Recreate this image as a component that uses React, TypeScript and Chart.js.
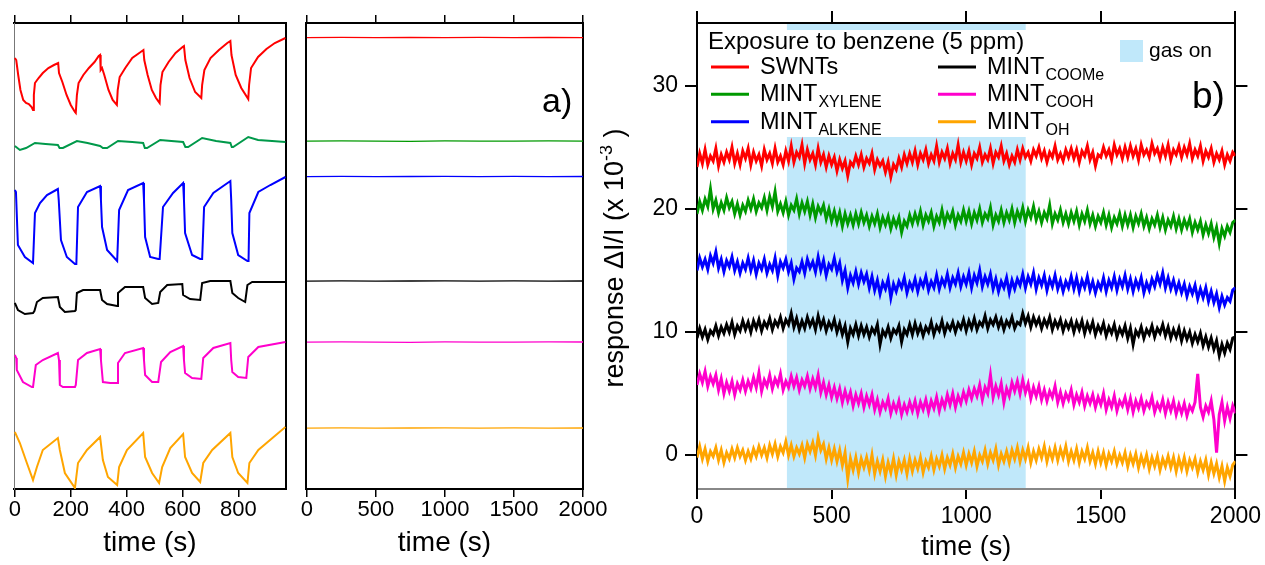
import React, { useEffect, useRef } from 'react';
import { Chart, registerables } from 'chart.js';
Chart.register(...registerables);

const FONT = '"Liberation Sans", Arial, Helvetica, sans-serif';

// ---------- Panel a (left): repeated exposures, [time s, offset signal (arb., plotted downward)] ----------
const A_SWNT: [number, number][] = [[0,58],[5,60],[12,75],[20,90],[30,100],[40,103],[50,104],[60,107],[65,110],[68,95],[72,83],[85,78],[100,73],[120,68],[140,65],[155,63],[158,73],[170,82],[185,95],[200,105],[215,112],[218,113],[222,95],[228,83],[245,75],[265,68],[285,62],[300,56],[305,55],[307,70],[312,68],[320,75],[335,90],[350,100],[365,105],[368,90],[375,77],[395,68],[420,58],[445,53],[460,50],[463,60],[475,75],[490,90],[505,98],[518,103],[521,85],[528,72],[550,62],[575,53],[600,47],[605,46],[610,60],[625,78],[645,92],[667,98],[670,85],[678,70],[700,58],[730,50],[760,43],[771,41],[775,55],[790,75],[810,88],[835,99],[838,85],[845,68],[870,57],[900,49],[930,43],[968,38]];
const A_XYLENE: [number, number][] = [[0,146],[18,150],[40,148],[72,143],[110,144],[154,145],[160,148],[172,148],[222,141],[260,143],[305,146],[315,148],[330,148],[369,141],[420,142],[459,143],[465,148],[473,148],[520,140],[560,141],[602,142],[610,147],[620,147],[670,138],[720,141],[771,143],[776,147],[781,147],[835,137],[870,140],[920,141],[968,142]];
const A_ALKENE: [number, number][] = [[0,190],[4,192],[11,245],[36,257],[65,263],[68,263],[72,213],[90,203],[115,195],[154,189],[157,200],[165,240],[186,257],[215,264],[220,264],[226,207],[258,192],[305,186],[308,200],[312,227],[330,250],[366,261],[369,261],[373,210],[405,190],[459,183],[462,200],[466,237],[484,257],[513,259],[518,259],[530,207],[566,193],[602,183],[605,200],[609,233],[634,255],[663,259],[670,259],[677,207],[710,193],[771,181],[774,200],[778,233],[799,255],[832,261],[836,261],[839,213],[871,192],[914,185],[968,177]];
const A_COOME: [number, number][] = [[0,303],[11,310],[36,314],[65,313],[70,311],[79,302],[100,298],[154,297],[161,307],[179,312],[215,311],[218,310],[222,293],[244,290],[305,290],[312,300],[330,304],[366,306],[369,293],[394,287],[459,287],[466,298],[491,304],[513,303],[520,292],[545,285],[599,284],[602,295],[627,299],[663,300],[670,283],[699,281],[771,281],[778,293],[799,298],[824,302],[832,285],[849,282],[968,282]];
const A_COOH: [number, number][] = [[0,355],[5,358],[7,370],[29,382],[61,387],[65,387],[75,365],[100,360],[154,353],[158,360],[161,385],[172,387],[215,387],[218,385],[226,360],[258,353],[305,349],[308,360],[315,382],[341,383],[366,383],[369,363],[394,353],[459,348],[462,360],[466,375],[491,382],[513,382],[523,362],[556,352],[602,346],[605,360],[609,373],[634,378],[667,379],[674,358],[710,348],[771,343],[774,360],[778,372],[799,377],[828,378],[835,357],[871,347],[968,342]];
const A_OH: [number, number][] = [[0,432],[18,443],[43,463],[65,480],[79,467],[100,450],[154,438],[161,450],[179,473],[215,488],[226,463],[258,450],[305,437],[315,460],[333,477],[366,485],[373,467],[401,450],[459,433],[466,457],[491,473],[516,483],[527,467],[556,448],[602,434],[609,457],[634,473],[663,482],[674,463],[706,450],[771,433],[778,457],[799,473],[832,483],[839,463],[871,450],[968,427]];
const A1_TICKS = [0, 200, 400, 600, 800];

// ---------- Panel a (right): benzene, flat traces ----------
const A2_SWNT: [number, number][] = [[0,37.6],[250,37.4],[500,37.7],[750,37.5],[1000,37.6],[1250,37.4],[1500,37.7],[1750,37.5],[2000,37.6]];
const A2_XYLENE: [number, number][] = [[0,141.2],[250,140.9],[500,141.1],[750,141.3],[1000,140.9],[1250,141.1],[1500,141.2],[1750,140.9],[2000,141.1]];
const A2_ALKENE: [number, number][] = [[0,176.6],[250,176.4],[500,176.7],[750,176.5],[1000,176.3],[1250,176.6],[1500,176.4],[1750,176.7],[2000,176.5]];
const A2_COOME: [number, number][] = [[0,281.1],[250,280.9],[500,281.2],[750,281.0],[1000,280.8],[1250,281.1],[1500,280.9],[1750,281.2],[2000,281.0]];
const A2_COOH: [number, number][] = [[0,342.2],[250,341.9],[500,342.1],[750,342.3],[1000,341.9],[1250,342.1],[1500,342.2],[1750,341.9],[2000,342.0]];
const A2_OH: [number, number][] = [[0,428.1],[250,427.9],[500,428.2],[750,428.0],[1000,427.8],[1250,428.1],[1500,427.9],[1750,428.2],[2000,428.0]];
const A2_TICKS = [0, 500, 1000, 1500, 2000];

// ---------- Panel b: exposure to benzene (5 ppm), response ΔI/I (x 10^-3), sampled every 10 s ----------
const B_TIMES: number[] = Array.from({ length: 201 }, (_, i) => i * 10);
const B_SWNT = [
  23.4,24.5,23.7,24.8,23.6,24.3,23.9,24.9,23.5,24.4,23.8,24.6,24.0,25.0,23.7,24.5,23.6,24.7,24.1,24.9,
  23.6,24.6,23.9,24.4,23.5,24.8,24.0,24.5,23.7,24.9,23.8,24.3,23.6,24.7,23.9,25.1,23.8,24.6,24.2,25.2,
  23.7,24.8,24.0,24.5,23.6,24.9,23.8,24.4,23.4,24.3,23.6,24.2,23.1,24.0,23.3,23.9,22.7,23.8,23.5,24.3,
  23.6,24.4,23.4,24.1,23.7,24.5,23.2,24.0,23.5,23.9,23.0,23.8,22.6,23.6,23.2,24.1,23.4,24.4,23.7,24.5,
  23.8,24.7,23.6,24.5,24.0,24.8,23.7,24.4,23.9,25.1,23.8,24.6,24.1,24.9,23.7,24.5,24.0,25.2,23.8,24.6,
  23.9,24.7,23.6,24.5,24.1,25.0,23.8,24.4,24.0,24.9,23.7,24.6,24.2,25.1,23.9,24.5,23.6,24.3,23.8,24.8,
  24.0,24.9,24.2,24.6,23.9,24.8,24.3,25.0,24.1,24.7,23.8,24.6,24.2,25.1,24.0,24.5,23.9,24.8,24.2,24.9,
  24.1,24.8,23.8,24.7,24.3,25.1,24.0,24.6,23.5,24.4,24.2,25.0,24.3,24.8,24.0,25.2,24.4,24.9,24.1,25.0,
  24.2,25.1,24.3,24.9,24.0,25.2,24.4,24.8,24.2,25.3,24.5,24.9,24.1,25.0,24.3,25.2,24.0,24.8,24.4,25.1,
  24.2,25.0,24.4,25.3,24.1,24.8,24.3,25.1,23.9,24.7,24.2,24.9,23.8,24.5,24.0,24.7,23.6,24.4,23.9,24.6,
  24.3];
const B_XYLENE = [
  19.6,20.6,19.9,20.8,20.2,21.6,20.0,20.7,19.7,20.5,19.9,20.9,20.1,20.6,19.6,20.4,19.5,20.3,19.8,20.7,
  20.0,20.8,19.8,20.5,20.1,20.9,19.9,21.0,20.2,21.4,19.8,20.4,19.7,20.6,19.5,20.3,19.9,20.8,19.6,20.5,
  19.8,20.6,19.5,20.4,19.3,20.2,19.7,20.3,19.2,20.0,19.0,19.8,18.9,19.7,18.6,19.6,18.8,19.5,18.7,19.6,
  18.8,19.7,18.9,19.5,18.6,19.4,18.8,19.6,18.5,19.3,18.7,19.4,18.4,19.2,18.6,19.3,18.1,19.0,18.6,19.5,
  18.8,19.6,18.9,19.8,18.7,19.5,19.0,19.7,18.6,19.4,18.9,19.9,18.8,19.6,19.1,19.8,18.7,19.5,19.0,19.9,
  19.0,19.8,18.8,19.7,19.1,20.0,18.9,19.6,19.2,20.1,18.7,19.5,19.0,19.9,18.9,19.7,19.1,20.0,18.9,19.8,
  19.2,20.1,19.0,19.9,19.3,20.2,19.1,19.8,18.9,19.7,19.2,20.3,18.8,19.6,19.1,19.9,18.9,19.6,18.8,19.7,
  19.0,19.8,18.7,19.6,19.0,19.9,18.8,19.5,18.6,19.4,18.9,19.7,18.7,19.5,18.5,19.3,18.8,19.6,18.6,19.5,
  18.7,19.5,18.5,19.4,18.8,19.6,18.6,19.3,18.4,19.2,18.7,19.5,18.5,19.3,18.3,19.1,18.6,19.4,18.4,19.2,
  18.3,19.1,18.5,19.2,18.1,18.9,18.3,19.0,17.9,18.7,18.0,18.8,17.7,18.5,17.2,18.4,17.8,18.6,18.1,18.9,
  19.1];
const B_ALKENE = [
  15.0,16.0,15.3,15.9,15.1,16.2,15.6,16.5,15.2,15.9,14.9,15.8,15.3,16.1,15.0,15.7,14.8,15.6,15.1,16.0,
  15.0,15.8,14.7,15.6,15.1,15.9,14.8,15.5,15.0,16.0,14.6,15.7,15.2,15.9,14.9,15.6,14.3,15.2,14.9,15.7,
  14.8,15.9,15.2,15.7,14.9,16.1,15.0,15.8,14.6,15.5,15.1,16.0,14.9,15.6,14.2,15.0,13.6,14.6,14.0,14.9,
  13.9,14.8,14.1,14.7,13.6,14.5,13.4,14.2,13.1,14.0,13.5,14.3,12.8,13.9,13.3,14.1,13.6,14.4,13.2,14.0,
  13.5,14.3,13.3,14.2,13.7,14.5,13.4,14.1,13.6,14.6,13.5,14.3,13.8,14.7,13.6,14.4,13.9,14.8,13.7,14.5,
  13.9,14.8,13.6,14.6,14.0,15.0,13.7,14.5,13.9,14.7,13.5,14.3,13.3,14.1,13.6,14.4,13.2,14.2,13.5,14.3,
  13.8,14.7,13.6,14.5,13.9,14.8,13.5,14.4,13.8,14.6,13.4,14.3,13.7,14.6,13.5,14.2,13.3,14.1,13.6,14.5,
  13.5,14.4,13.3,14.2,13.6,14.5,13.4,14.1,13.2,14.0,13.5,14.4,13.3,14.2,13.6,14.5,13.4,14.3,13.7,14.6,
  13.5,14.3,13.3,14.2,13.6,14.4,13.2,14.0,13.4,14.3,13.7,14.6,13.9,14.8,13.6,14.4,13.5,14.2,13.3,14.0,
  13.2,13.9,12.9,13.7,13.1,13.8,12.7,13.5,12.8,13.6,12.5,13.3,12.4,13.1,12.0,12.9,12.2,12.8,12.5,13.4,
  13.6];
const B_COOME = [
  9.5,10.3,9.6,10.2,9.4,10.1,9.8,10.5,9.7,10.4,9.9,10.6,10.0,10.8,9.8,10.5,10.1,10.9,10.2,10.8,
  10.0,10.9,10.3,11.0,10.1,10.8,10.4,11.1,10.2,10.9,10.5,11.2,10.3,11.0,10.6,11.5,10.4,11.1,10.2,10.9,
  10.3,11.2,10.5,11.0,10.2,11.3,10.4,11.0,10.1,10.8,10.3,11.0,10.0,10.7,9.8,10.5,9.2,10.3,9.8,10.6,
  9.7,10.5,9.8,10.4,9.6,10.3,9.9,10.6,9.0,10.1,9.7,10.4,9.5,10.2,9.9,10.5,9.2,10.2,9.8,10.6,
  9.8,10.7,9.9,10.5,9.7,10.4,10.0,10.8,9.8,10.5,10.1,10.9,9.9,10.6,10.2,10.8,10.0,10.7,10.3,11.0,
  10.1,10.9,10.3,11.1,10.2,10.8,10.5,11.3,10.3,11.0,10.6,11.2,10.4,11.0,10.2,10.9,10.5,11.2,10.3,10.8,
  10.6,11.5,10.7,11.3,10.4,11.2,10.6,11.1,10.3,11.0,10.5,11.2,10.2,10.9,10.4,11.0,10.1,10.8,10.3,10.9,
  10.0,10.8,10.2,10.9,9.9,10.7,10.1,10.8,9.8,10.5,10.0,10.7,9.7,10.4,9.9,10.6,9.6,10.3,9.8,10.5,
  9.5,10.3,9.0,10.1,9.7,10.4,9.5,10.2,9.8,10.5,9.6,10.3,9.9,10.6,9.7,10.4,9.5,10.2,9.6,10.3,
  9.3,10.1,9.4,10.0,9.1,9.8,9.2,9.9,8.9,9.6,8.8,9.5,8.6,9.3,8.1,9.0,8.3,9.1,8.6,9.5,
  9.6];
const B_COOH = [
  5.7,6.6,5.9,6.8,5.6,6.4,5.8,6.5,5.3,6.2,5.0,5.9,5.2,6.0,4.9,5.8,5.3,6.1,5.2,6.0,
  5.4,6.3,5.5,6.7,5.2,6.1,5.6,6.5,5.4,6.2,5.7,6.6,5.3,6.0,5.5,6.4,5.6,6.3,5.3,6.1,
  5.6,6.4,5.4,6.2,5.5,6.5,5.1,5.9,4.9,5.7,4.7,5.5,4.6,5.4,4.3,5.2,4.4,5.1,4.0,4.9,
  4.2,5.0,3.9,4.8,4.1,4.9,3.7,4.5,3.5,4.3,3.8,4.6,3.4,4.2,3.6,4.4,3.3,4.1,3.5,4.3,
  3.6,4.4,3.4,4.3,3.7,4.5,3.5,4.4,3.8,4.7,3.6,4.5,3.9,4.9,4.1,5.0,3.9,4.8,4.2,5.1,
  4.4,5.3,4.6,5.4,4.8,5.7,4.5,5.5,5.0,6.5,4.7,5.6,4.9,5.8,4.3,5.4,4.8,5.9,5.2,6.0,
  5.0,6.1,5.1,5.8,4.6,5.5,4.8,5.6,4.5,5.3,4.4,5.2,4.7,5.6,4.3,5.1,4.2,5.0,4.5,5.3,
  4.1,4.9,4.3,5.1,4.0,4.8,4.2,4.9,3.9,4.7,4.1,5.0,3.7,4.5,3.9,4.8,3.6,4.4,4.0,4.7,
  3.7,4.6,3.5,4.4,3.8,4.6,3.6,4.3,3.9,4.7,3.5,4.2,3.7,4.5,3.4,4.3,3.6,4.4,3.3,4.1,
  3.4,4.2,3.2,4.0,3.6,4.3,6.6,3.9,3.1,4.0,3.5,4.4,2.9,0.2,3.3,4.3,2.8,3.9,3.0,4.0,
  3.4];
const B_OH = [
  -0.2,0.7,-0.3,0.5,-0.5,0.3,-0.1,0.6,-0.4,0.4,-0.6,0.2,-0.3,0.5,-0.2,0.6,-0.1,0.4,-0.4,0.3,
  -0.3,0.5,-0.1,0.7,0.0,0.6,-0.2,0.8,0.1,0.9,-0.1,0.7,0.2,1.1,0.0,0.8,-0.1,0.6,0.1,0.8,
  -0.2,0.9,0.3,1.0,0.0,1.4,0.4,0.9,-0.3,0.6,-0.4,0.5,-0.5,0.4,-0.8,0.2,-1.9,-0.3,-1.2,-0.2,
  -1.4,-0.3,-1.0,-0.2,-1.2,0.0,-1.5,-0.5,-1.3,-0.4,-1.7,-0.6,-1.4,-0.3,-1.6,-0.5,-1.2,-0.4,-1.5,-0.3,
  -1.3,-0.4,-1.1,-0.2,-1.4,-0.5,-1.0,-0.1,-1.2,-0.3,-0.9,0.0,-1.1,-0.2,-0.8,0.1,-1.0,-0.1,-0.7,0.2,
  -0.8,0.1,-0.6,0.3,-0.9,0.0,-0.5,0.4,-0.7,0.2,-0.4,0.5,-0.8,0.1,-0.5,0.3,-0.6,0.4,-0.3,0.6,
  -0.5,0.4,-0.3,0.6,-0.6,0.3,-0.4,0.5,-0.2,0.7,-0.5,0.4,-0.3,0.6,-0.4,0.5,-0.2,0.7,-0.5,0.3,
  -0.4,0.5,-0.6,0.3,-0.3,0.6,-0.5,0.2,-0.7,0.3,-0.6,0.2,-0.8,0.1,-0.5,0.3,-0.7,0.0,-0.6,0.2,
  -0.9,0.0,-0.7,0.1,-1.0,-0.1,-0.8,0.0,-1.1,-0.2,-0.9,-0.1,-1.2,-0.3,-0.9,-0.1,-1.0,-0.2,-1.3,-0.3,
  -1.1,-0.2,-1.3,-0.4,-1.0,-0.3,-1.4,-0.5,-1.2,-0.4,-1.6,-0.6,-1.5,-0.7,-1.8,-0.9,-2.1,-1.0,-1.7,-0.8,
  -0.5];
const GAS_ON: [number, number] = [334, 1221];
const B_XTICKS = [0, 500, 1000, 1500, 2000];
const B_YTICKS = [0, 10, 20, 30];

const C_RED = '#ff0000';
const C_GREEN = '#009900';
const C_GREEN_A = '#00994a';
const C_BLUE = '#0000ff';
const C_BLACK = '#000000';
const C_MAGENTA = '#ff00cc';
const C_ORANGE = '#ffa500';

const LEGEND_ITEMS = [
  { main: 'SWNTs', sub: '', color: C_RED, col: 0, row: 0 },
  { main: 'MINT', sub: 'XYLENE', color: C_GREEN, col: 0, row: 1 },
  { main: 'MINT', sub: 'ALKENE', color: C_BLUE, col: 0, row: 2 },
  { main: 'MINT', sub: 'COOMe', color: C_BLACK, col: 1, row: 0 },
  { main: 'MINT', sub: 'COOH', color: C_MAGENTA, col: 1, row: 1 },
  { main: 'MINT', sub: 'OH', color: C_ORANGE, col: 1, row: 2 },
];

function line(data: any[], color: string, width: number) {
  return { data, borderColor: color, backgroundColor: color, borderWidth: width, pointRadius: 0, tension: 0, fill: false };
}

function fixW(w: number) { return (s: any) => { s.width = w; }; }
function fixH(h: number) { return (s: any) => { s.height = h; }; }
function setTicks(vals: number[]) { return (s: any) => { s.ticks = vals.map((v) => ({ value: v })); }; }
const plain = (v: any) => String(v);

function panelAScales(xmin: number, xmax: number, ticks: number[], leftW: number, rightW: number, leftColor: string, leftWidth: number) {
  const tickGrid = { display: true, drawOnChartArea: false, drawTicks: true, tickLength: 8, color: '#000', lineWidth: 1.5 };
  return {
    x: {
      type: 'linear', position: 'bottom', min: xmin, max: xmax,
      afterBuildTicks: setTicks(ticks),
      ticks: { autoSkip: false, maxRotation: 0, color: '#000', font: { size: 22, family: FONT }, padding: 0, callback: plain },
      grid: tickGrid,
      border: { display: true, color: '#000', width: 2 },
      title: { display: true, text: 'time (s)', color: '#000', font: { size: 28, family: FONT }, padding: { top: 0, bottom: 5 } },
      afterFit: fixH(76),
    },
    xTop: {
      type: 'linear', position: 'top', min: xmin, max: xmax,
      afterBuildTicks: setTicks(ticks),
      ticks: { display: false, autoSkip: false },
      grid: tickGrid,
      border: { display: true, color: '#000', width: 2 },
      afterFit: fixH(23),
    },
    y: {
      type: 'linear', position: 'left', reverse: true, min: 23, max: 489,
      ticks: { display: false }, grid: { display: false },
      border: { display: true, color: leftColor, width: leftWidth },
      afterFit: fixW(leftW),
    },
    yRight: {
      type: 'linear', position: 'right', reverse: true, min: 23, max: 489,
      ticks: { display: false }, grid: { display: false },
      border: { display: true, color: '#000', width: 2 },
      afterFit: fixW(rightW),
    },
  };
}

const baseOptions = {
  animation: false, responsive: false, devicePixelRatio: 1, events: [],
  layout: { padding: 0 },
  plugins: { legend: { display: false }, tooltip: { enabled: false }, title: { display: false } },
};

const labelAPlugin = {
  id: 'labelA',
  afterDraw(chart: any) {
    const ctx = chart.ctx;
    ctx.save();
    ctx.fillStyle = '#000';
    ctx.font = `34px ${FONT}`;
    ctx.textAlign = 'left';
    ctx.textBaseline = 'alphabetic';
    ctx.fillText('a)', 250, 112);
    ctx.restore();
  },
};

const panelBPlugin = {
  id: 'panelB',
  beforeDraw(chart: any) {
    const ctx = chart.ctx;
    const { chartArea } = chart;
    const xs = chart.scales.x;
    const x0 = xs.getPixelForValue(GAS_ON[0]);
    const x1 = xs.getPixelForValue(GAS_ON[1]);
    ctx.save();
    ctx.fillStyle = 'rgb(192,232,250)';
    ctx.fillRect(x0, chartArea.top, x1 - x0, chartArea.bottom - chartArea.top);
    ctx.fillStyle = '#ffffff';
    ctx.fillRect(chartArea.left + 2, 30, chartArea.right - chartArea.left - 4, 107);
    ctx.restore();
  },
  afterDraw(chart: any) {
    const ctx = chart.ctx;
    ctx.save();
    ctx.fillStyle = '#000';
    ctx.textAlign = 'left';
    ctx.textBaseline = 'alphabetic';
    ctx.font = `24px ${FONT}`;
    ctx.fillText('Exposure to benzene (5 ppm)', 108, 49);
    const rowsY = [67, 94.3, 121.7];
    const colLine = [111, 338];
    const colText = [160, 387];
    for (const it of LEGEND_ITEMS) {
      const ly = rowsY[it.row];
      ctx.strokeStyle = it.color;
      ctx.lineWidth = 3;
      ctx.beginPath();
      ctx.moveTo(colLine[it.col], ly);
      ctx.lineTo(colLine[it.col] + 38, ly);
      ctx.stroke();
      ctx.fillStyle = '#000';
      ctx.font = `23.5px ${FONT}`;
      const tx = colText[it.col];
      ctx.fillText(it.main, tx, ly + 7);
      if (it.sub) {
        const w = ctx.measureText(it.main).width;
        ctx.font = `16px ${FONT}`;
        ctx.fillText(it.sub, tx + w + 1, ly + 13);
      }
    }
    ctx.fillStyle = 'rgb(192,232,250)';
    ctx.fillRect(520, 40, 23, 22);
    ctx.fillStyle = '#000';
    ctx.font = `21px ${FONT}`;
    ctx.fillText('gas on', 549, 57);
    ctx.font = `37px ${FONT}`;
    ctx.fillText('b)', 592, 108);
    const mainFont = `27px ${FONT}`;
    const supFont = `18px ${FONT}`;
    const p1 = 'response ΔI/I (x 10';
    const p2 = '-3';
    const p3 = ' )';
    ctx.font = mainFont;
    const w1 = ctx.measureText(p1).width;
    const w3 = ctx.measureText(p3).width;
    ctx.font = supFont;
    const w2 = ctx.measureText(p2).width;
    const total = w1 + w2 + w3;
    ctx.translate(23, 258);
    ctx.rotate(-Math.PI / 2);
    let x = -total / 2;
    ctx.font = mainFont;
    ctx.fillText(p1, x, 0);
    x += w1;
    ctx.font = supFont;
    ctx.fillText(p2, x, -11);
    x += w2;
    ctx.font = mainFont;
    ctx.fillText(p3, x, 0);
    ctx.restore();
  },
};

export default function App() {
  const c1 = useRef<HTMLCanvasElement>(null);
  const c2 = useRef<HTMLCanvasElement>(null);
  const c3 = useRef<HTMLCanvasElement>(null);

  useEffect(() => {
    Chart.defaults.font.family = FONT;
    const charts: Chart[] = [];

    charts.push(new Chart(c1.current as HTMLCanvasElement, {
      type: 'line',
      data: { datasets: [
        line(A_SWNT, C_RED, 2), line(A_XYLENE, C_GREEN_A, 2), line(A_ALKENE, C_BLUE, 2),
        line(A_COOME, C_BLACK, 2), line(A_COOH, C_MAGENTA, 2), line(A_OH, C_ORANGE, 2),
      ] as any },
      options: { ...baseOptions, scales: panelAScales(-3, 970, A1_TICKS, 14, 14, '#777', 1) } as any,
    }));

    charts.push(new Chart(c2.current as HTMLCanvasElement, {
      type: 'line',
      data: { datasets: [
        line(A2_SWNT, C_RED, 1.3), line(A2_XYLENE, C_GREEN, 1.3), line(A2_ALKENE, C_BLUE, 1.3),
        line(A2_COOME, C_BLACK, 1.3), line(A2_COOH, C_MAGENTA, 1.3), line(A2_OH, C_ORANGE, 1.3),
      ] as any },
      options: { ...baseOptions, scales: panelAScales(-7, 2000, A2_TICKS, 14, 49, '#000', 2) } as any,
      plugins: [labelAPlugin],
    }));

    const toPairs = (vals: number[]) => vals.map((v, i) => [B_TIMES[i], v]);
    const bTick = (len: number) => ({ display: true, drawOnChartArea: false, drawTicks: true, tickLength: len, color: '#000', lineWidth: 2 });
    charts.push(new Chart(c3.current as HTMLCanvasElement, {
      type: 'line',
      data: { datasets: [
        line(toPairs(B_SWNT), C_RED, 3), line(toPairs(B_XYLENE), C_GREEN, 3), line(toPairs(B_ALKENE), C_BLUE, 3),
        line(toPairs(B_COOME), C_BLACK, 3), line(toPairs(B_COOH), C_MAGENTA, 3), line(toPairs(B_OH), C_ORANGE, 3),
      ] as any },
      options: { ...baseOptions, scales: {
        x: {
          type: 'linear', position: 'bottom', min: 0, max: 2000,
          afterBuildTicks: setTicks(B_XTICKS),
          ticks: { autoSkip: false, maxRotation: 0, color: '#000', font: { size: 23, family: FONT }, padding: 4, callback: plain },
          grid: bTick(10),
          border: { display: true, color: '#888', width: 2 },
          title: { display: true, text: 'time (s)', color: '#000', font: { size: 27, family: FONT }, padding: { top: 0, bottom: 1 } },
          afterFit: fixH(76),
        },
        xTop: {
          type: 'linear', position: 'top', min: 0, max: 2000,
          afterBuildTicks: setTicks(B_XTICKS),
          ticks: { display: false, autoSkip: false },
          grid: bTick(12),
          border: { display: true, color: '#000', width: 2 },
          afterFit: fixH(23),
        },
        y: {
          type: 'linear', position: 'left', min: -2.75, max: 35.1,
          afterBuildTicks: setTicks(B_YTICKS),
          ticks: { autoSkip: false, color: '#000', font: { size: 23, family: FONT }, padding: 7, callback: plain },
          grid: bTick(12),
          border: { display: true, color: '#000', width: 2 },
          afterFit: fixW(97),
        },
        yRight: {
          type: 'linear', position: 'right', min: -2.75, max: 35.1,
          afterBuildTicks: setTicks(B_YTICKS),
          ticks: { display: false },
          grid: bTick(12),
          border: { display: true, color: '#000', width: 2 },
          afterFit: fixW(28),
        },
      } } as any,
      plugins: [panelBPlugin],
    }));

    return () => { charts.forEach((c) => c.destroy()); };
  }, []);

  const abs = (left: number, width: number): React.CSSProperties => ({ position: 'absolute', left, top: 0, width, height: 565 });
  return (
    <div style={{ position: 'fixed', left: 0, top: 0, width: 1265, height: 565, background: '#fff', overflow: 'hidden' }}>
      <canvas ref={c1} width={300} height={565} style={abs(0, 300)} />
      <canvas ref={c2} width={340} height={565} style={abs(292, 340)} />
      <canvas ref={c3} width={665} height={565} style={abs(600, 665)} />
    </div>
  );
}
